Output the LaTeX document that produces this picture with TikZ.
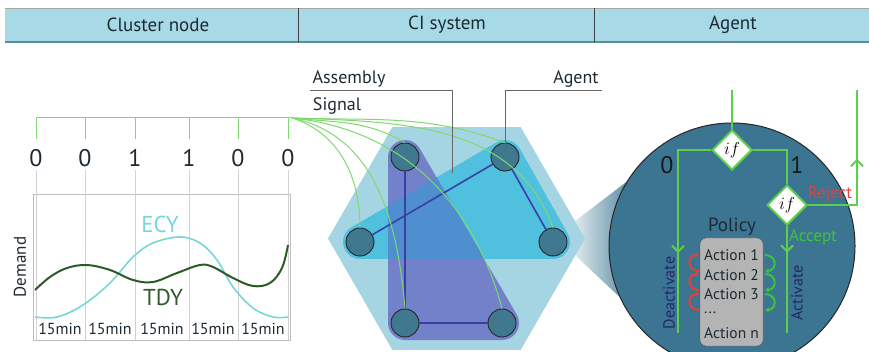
\documentclass[tikz,border=0pt]{standalone}
\usepackage{fontspec}
\setmainfont{PT Sans}
\usetikzlibrary{arrows.meta,shapes.geometric,backgrounds,decorations.markings}

\definecolor{headblue}{HTML}{A7D9E6}
\definecolor{headline}{HTML}{5E8C99}
\definecolor{hexblue}{HTML}{A5D5E2}
\definecolor{zonecyan}{HTML}{4FC0DE}
\definecolor{zonepurple}{HTML}{7381CA}
\definecolor{zonemix}{HTML}{4F8FD0}
\definecolor{agentteal}{HTML}{40798F}
\definecolor{linkblue}{HTML}{3A3FA6}
\definecolor{signalgreen}{HTML}{80D870}
\definecolor{flowgreen}{HTML}{5CD04C}
\definecolor{lensblue}{HTML}{3B7591}
\definecolor{ecycyan}{HTML}{74D8D8}
\definecolor{tdygreen}{HTML}{2E5A2A}
\definecolor{gridgrey}{HTML}{BDBDBD}
\definecolor{rejectred}{HTML}{E5403C}
\definecolor{acceptgreen}{HTML}{3CC43C}
\definecolor{textdark}{HTML}{1E2A33}
\definecolor{policygrey}{HTML}{B4B4B4}

\newcommand{\fsz}[1]{\fontsize{#1}{#1}\selectfont}
% rounded assembly zones (image coordinates, y down)
\newcommand{\cyanzone}{(360,259) -- (553,259) arc[start angle=90,end angle=-29.46,radius=17] -- (519.81,148.64) arc[start angle=-29.46,end angle=-120.38,radius=17] -- (351.40,227.34) arc[start angle=239.62,end angle=90,radius=17] -- cycle}
\newcommand{\purplezone}{(388,157) -- (388,323) arc[start angle=180,end angle=90,radius=17] -- (502,340) arc[start angle=90,end angle=-30.29,radius=17] -- (419.67,148.43) arc[start angle=-30.29,end angle=-180,radius=17] -- cycle}

\begin{document}
\begin{tikzpicture}[x=1pt,y=-1pt,
  headtxt/.style={text=textdark,font=\fsz{19}},
  bit/.style={text=textdark,font=\fsz{24}},
  minlabel/.style={text=textdark,font=\fsz{16}},
  signal/.style={signalgreen,line width=1pt},
  agent/.style={circle,draw=black!85,fill=agentteal,line width=0.9pt,minimum size=28pt,inner sep=0pt},
  link/.style={linkblue,line width=1.6pt},
  callout/.style={black!60,line width=0.7pt},
  calltxt/.style={text=textdark,font=\fsz{18}},
  flow/.style={flowgreen,line width=2pt},
  midtip/.style={postaction={decorate},decoration={markings,mark=at position #1 with {\arrow{Straight Barb[length=6pt,width=12pt]}}}},
  ifbox/.style={diamond,draw=flowgreen,fill=white,line width=2pt,minimum size=40pt,inner sep=0pt,font=\fsz{19}},
  action/.style={anchor=west,text=textdark,font=\fsz{15.5},inner sep=0pt},
  loopred/.style={rejectred,line width=2pt,-{Stealth[length=4pt,width=5pt]}},
  loopgreen/.style={acceptgreen,line width=2pt,-{Stealth[length=4pt,width=5pt]}}]

\useasboundingbox (0,0) rectangle (869,352);

% header
\fill[headblue] (5,8) rectangle (869,42);
\draw[black!35,line width=0.6pt] (5,8) -- (869,8);
\draw[headline,line width=2pt] (5,42) -- (869,42);
\draw[black!75,line width=0.6pt] (298,8) -- (298,42) (594,8) -- (594,42);
\node[headtxt] (hcluster) at (158,25) {Cluster node};
\node[headtxt] (hci) at (447,25) {CI system};
\node[headtxt] (hagent) at (733,25) {Agent};

% cluster node
\draw[gridgrey,line width=0.8pt] (33,194) rectangle (290,340);
\coordinate (sig) at (292,118);
\draw[signal] (36,118) -- (sig);
\foreach \x/\v [count=\i] in {36/0,85/0,135/1,189/1,238/0,288/0}{
  \node[bit] (b\i) at (\x,158) {\v};
  \draw[gridgrey!70,line width=0.6pt] (b\i.south) -- (b\i |- 0,340);
  \draw[signal] (b\i |- sig) -- ++(0,21);
}
\draw[ecycyan,line width=1.6pt] plot[smooth,tension=0.6] coordinates {(35,317) (57,317) (83,305) (110,283) (133,257) (153,243) (180,237) (200,243) (217,260) (233,287) (253,308) (273,317) (288,317)};
\draw[tdygreen,line width=2pt] plot[smooth,tension=0.6] coordinates {(35,290) (50,277) (67,268) (87,265) (110,270) (133,280) (153,282) (177,273) (200,265) (213,267) (233,278) (253,286) (270,283) (282,268) (288,245)};
\node[text=ecycyan,font=\fsz{23}] (ecy) at (160,224) {ECY};
\node[text=tdygreen,font=\fsz{23}] (tdy) at (163,297) {TDY};
\node[rotate=90,text=textdark,font=\fsz{17}] (demand) at (20,267) {Demand};
\foreach \x [count=\i] in {60,110,162,213,263}
  \node[minlabel] (m\i) at (\x,329) {15min};

% CI system
\node[agent] (n1) at (405,157) {};
\node[agent] (n2) at (505,157) {};
\node[agent] (n3) at (360,242) {};
\node[agent] (n4) at (553,242) {};
\node[agent] (n5) at (405,323) {};
\node[agent] (n6) at (502,323) {};

\begin{scope}[on background layer]
  \shade[left color=white,right color=lensblue] (562,231) -- (642,170) -- (642,318) -- (562,243) -- cycle;
  \fill[hexblue] (585,238.5) -- (520.75,127.2) -- (392.25,127.2) -- (328,238.5) -- (392.25,349.8) -- (520.75,349.8) -- cycle;
  \fill[zonecyan] \cyanzone;
  \fill[zonepurple] \purplezone;
  \begin{scope}
    \clip \cyanzone;
    \fill[zonemix] \purplezone;
  \end{scope}
\end{scope}

\draw[link] (n1) -- (n5) -- (n6);
\draw[link] (n3) -- (n2) -- (n4);

\foreach \n/\o/\a in {n1/-6/150,n2/-2/160,n3/-18/90,n4/-2/110,n5/-12/95,n6/-6/105}
  \draw[signal] (sig) to[out=\o,in=\a] (\n.north);

\node[calltxt] (lasm) at (349,79) {Assembly};
\node[calltxt] (lsig) at (337,106) {Signal};
\node[calltxt] (lagt) at (576,79) {Agent};
\draw[callout] (310,90) -| (452,173);
\draw[callout] (602,90) -| (n2.center);

% agent
\node[circle,fill=lensblue,draw=black!85,line width=1pt,minimum size=246pt,inner sep=0pt] (lens) at (732,246) {};
\node[ifbox] (if1) at (732,150) {$if$};
\node[ifbox] (if2) at (787,205) {$if$};
\coordinate (top) at (732,90);
\coordinate (deact) at (678,333);
\coordinate (act) at (787,333);
\coordinate (out) at (857,90);
\draw[flow] (top) -- (if1.north);
\draw[flow,midtip=0.63] (if1.west) -| (deact);
\draw[flow] (if1.east) -| (if2.north);
\draw[flow,midtip=0.25] (if2.south) -- (act);
\draw[flow,midtip=0.58] (if2.east) -| (out);

\node[text=black!90,font=\fsz{24}] (zero) at (667,165) {0};
\node[text=black!90,font=\fsz{24}] (one) at (797,165) {1};
\node[text=rejectred,font=\fsz{17}] (reject) at (830,194) {Reject};
\node[text=acceptgreen,font=\fsz{17}] (accept) at (813,237) {Accept};
\node[text=textdark,font=\fsz{19}] (policy) at (732,227) {Policy};
\node[fill=policygrey,draw=black!65,rounded corners=6pt,minimum width=63pt,minimum height=108pt] (pol) at (731.5,292) {};
\node[action] (a1) at (704,255) {Action 1};
\node[action] (a2) at (704,275) {Action 2};
\node[action] (a3) at (704,294) {Action 3};
\node[action] (a4) at (704,313) {...};
\node[action] (a5) at (704,333) {Action n};
\node[rotate=90,text=linkblue!60!black,font=\fsz{16}] (deacttxt) at (669,293) {Deactivate};
\node[rotate=90,text=linkblue!60!black,font=\fsz{16}] (acttxt) at (797,293) {Activate};
\foreach \y in {263,282,302}{
  \draw[loopred] (699,\y+8) to[out=180,in=180,looseness=2] (699,\y-8);
  \draw[loopgreen] (765,\y-8) to[out=0,in=0,looseness=2] (765,\y+8);
}
\end{tikzpicture}
\end{document}
